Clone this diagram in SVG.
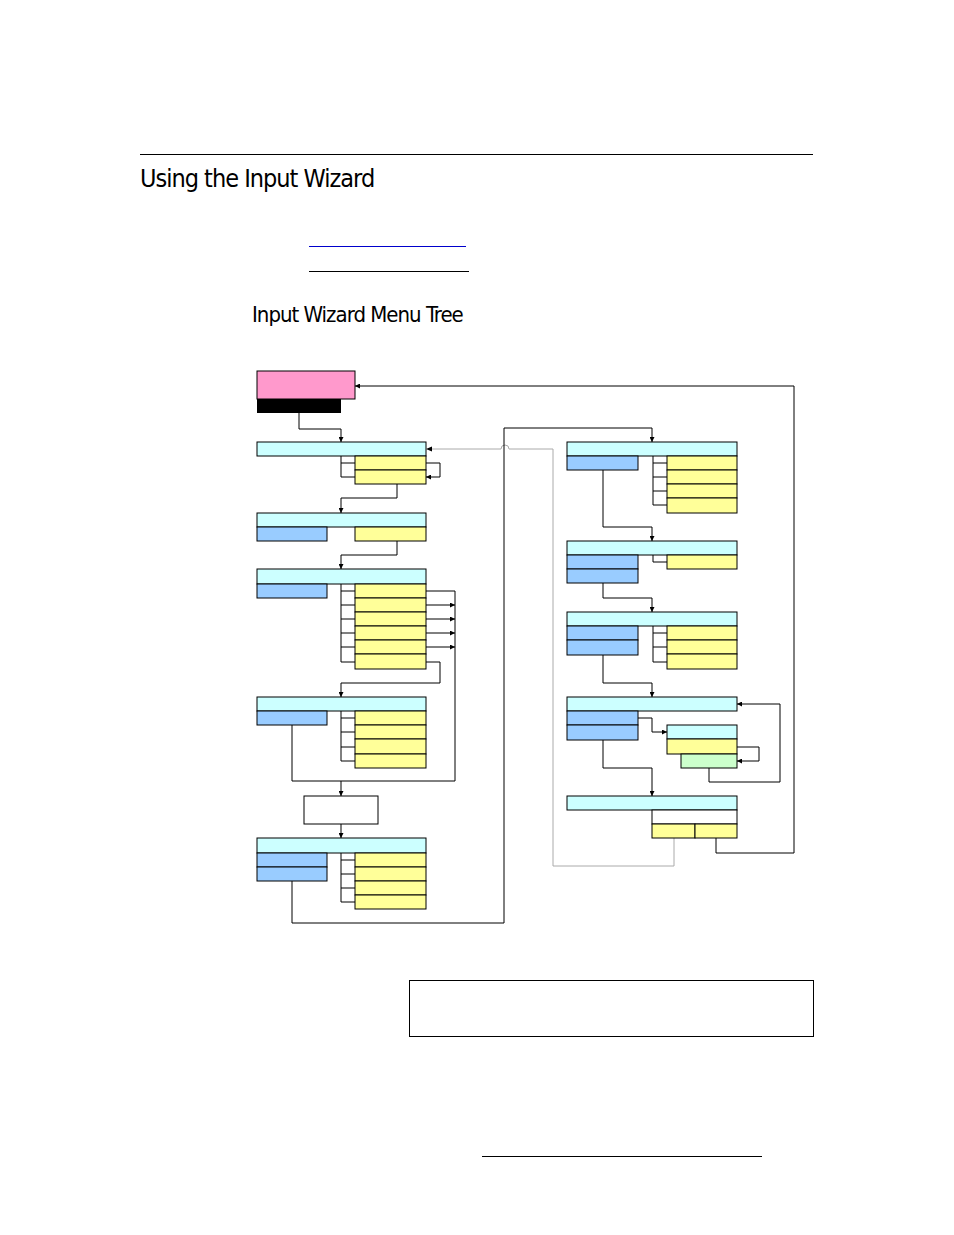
<svg xmlns="http://www.w3.org/2000/svg" width="954" height="1235" viewBox="0 0 954 1235">
<defs>
<marker id="a" viewBox="0 0 10 10" refX="10" refY="5" markerWidth="5" markerHeight="5" orient="auto"><path d="M0,0L10,5L0,10z" fill="#000"/></marker>
<marker id="g" viewBox="0 0 10 10" refX="10" refY="5" markerWidth="5" markerHeight="5" orient="auto"><path d="M0,0L10,5L0,10z" fill="#000"/></marker>
</defs>
<style>
.c{fill:#ccffff;stroke:#000;stroke-width:1}
.b{fill:#99ccff;stroke:#000;stroke-width:1}
.y{fill:#ffff99;stroke:#000;stroke-width:1}
.w{fill:#fff;stroke:#000;stroke-width:1}
.l{fill:none;stroke:#000;stroke-width:1}
.ar{fill:none;stroke:#000;stroke-width:1;marker-end:url(#a)}
.gr{fill:none;stroke:#aaa;stroke-width:1}
.t{font-family:"DejaVu Sans Condensed","Liberation Sans",sans-serif;fill:#000}
</style>
<rect width="954" height="1235" fill="#fff"/>
<line x1="140" y1="154.5" x2="813" y2="154.5" stroke="#000"/>
<text class="t" x="140" y="187" font-size="25" letter-spacing="-1">Using the Input Wizard</text>
<line x1="309" y1="246.5" x2="466" y2="246.5" stroke="#0000cc"/>
<line x1="309" y1="271.5" x2="469" y2="271.5" stroke="#000"/>
<text class="t" x="252" y="322" font-size="22" letter-spacing="-1">Input Wizard Menu Tree</text>
<rect x="409.5" y="980.5" width="404" height="56" fill="none" stroke="#000"/>
<line x1="482" y1="1156.5" x2="762" y2="1156.5" stroke="#000"/>

<g id="connectors">
<path class="ar" d="M299,413V429H341V442"/>
<path class="l" d="M341,456V477H355M341,463H355"/>
<path class="ar" d="M426,463H440V477H426"/>
<path class="gr" d="M674,838V866H553V449H509A4,4 0 0 0 501,449H432"/>
<path d="M426,449L432,446.5V451.5z" fill="#000"/>
<path class="ar" d="M397,484V498H341V513"/>
<path class="ar" d="M397,541V555H341V569"/>
<path class="l" d="M341,584V662H355M341,591H355M341,605H355M341,619H355M341,633H355M341,647H355"/>
<path class="l" d="M426,591H455V781"/>
<path class="ar" d="M426,605H455"/><path class="ar" d="M426,619H455"/><path class="ar" d="M426,633H455"/><path class="ar" d="M426,647H455"/>
<path class="ar" d="M426,662H440V683H341V697"/>
<path class="l" d="M341,711V761H355M341,718H355M341,732H355M341,747H355"/>
<path class="l" d="M292,725V781H455"/>
<path class="ar" d="M341,781V796"/>
<path class="ar" d="M341,824V838"/>
<path class="l" d="M341,853V902H355M341,860H355M341,874H355M341,888H355"/>
<path class="ar" d="M292,881V923H504V428H652V442"/>
<path class="l" d="M653,456V505H667M653,463H667M653,477H667M653,491H667"/>
<path class="ar" d="M603,470V527H652V541"/>
<path class="l" d="M653,555V562H667"/>
<path class="ar" d="M603,583V598H652V612"/>
<path class="l" d="M653,626V662H667M653,633H667M653,647H667"/>
<path class="ar" d="M603,655V683H652V697"/>
<path class="ar" d="M638,718H652V732H667"/>
<path class="ar" d="M737,747H759V761H737"/>
<path class="ar" d="M709,768V782H780V704H737"/>
<path class="ar" d="M603,740V768H652V796"/>
<path class="ar" d="M716,838V853H794V386H355"/>
</g>

<g id="start"><rect x="257" y="371" width="98" height="28" fill="#ff99cc" stroke="#000"/><rect x="257" y="399" width="84" height="14" fill="#000"/></g>
<g id="n1"><rect class="c" x="257" y="442" width="169" height="14"/><rect class="y" x="355" y="456" width="71" height="14"/><rect class="y" x="355" y="470" width="71" height="14"/></g>
<g id="n2"><rect class="c" x="257" y="513" width="169" height="14"/><rect class="b" x="257" y="527" width="70" height="14"/><rect class="y" x="355" y="527" width="71" height="14"/></g>
<g id="n3"><rect class="c" x="257" y="569" width="169" height="15"/><rect class="b" x="257" y="584" width="70" height="14"/>
<rect class="y" x="355" y="584" width="71" height="14"/><rect class="y" x="355" y="598" width="71" height="14"/><rect class="y" x="355" y="612" width="71" height="14"/><rect class="y" x="355" y="626" width="71" height="14"/><rect class="y" x="355" y="640" width="71" height="14"/><rect class="y" x="355" y="654" width="71" height="15"/></g>
<g id="n4"><rect class="c" x="257" y="697" width="169" height="14"/><rect class="b" x="257" y="711" width="70" height="14"/>
<rect class="y" x="355" y="711" width="71" height="14"/><rect class="y" x="355" y="725" width="71" height="14"/><rect class="y" x="355" y="739" width="71" height="15"/><rect class="y" x="355" y="754" width="71" height="14"/></g>
<g id="n5"><rect class="w" x="304" y="796" width="74" height="28"/></g>
<g id="n6"><rect class="c" x="257" y="838" width="169" height="15"/><rect class="b" x="257" y="853" width="70" height="14"/><rect class="b" x="257" y="867" width="70" height="14"/>
<rect class="y" x="355" y="853" width="71" height="14"/><rect class="y" x="355" y="867" width="71" height="14"/><rect class="y" x="355" y="881" width="71" height="14"/><rect class="y" x="355" y="895" width="71" height="14"/></g>
<g id="r1"><rect class="c" x="567" y="442" width="170" height="14"/><rect class="b" x="567" y="456" width="71" height="14"/>
<rect class="y" x="667" y="456" width="70" height="14"/><rect class="y" x="667" y="470" width="70" height="14"/><rect class="y" x="667" y="484" width="70" height="14"/><rect class="y" x="667" y="498" width="70" height="15"/></g>
<g id="r2"><rect class="c" x="567" y="541" width="170" height="14"/><rect class="b" x="567" y="555" width="71" height="14"/><rect class="b" x="567" y="569" width="71" height="14"/><rect class="y" x="667" y="555" width="70" height="14"/></g>
<g id="r3"><rect class="c" x="567" y="612" width="170" height="14"/><rect class="b" x="567" y="626" width="71" height="14"/><rect class="b" x="567" y="640" width="71" height="15"/>
<rect class="y" x="667" y="626" width="70" height="14"/><rect class="y" x="667" y="640" width="70" height="14"/><rect class="y" x="667" y="654" width="70" height="15"/></g>
<g id="r4"><rect class="c" x="567" y="697" width="170" height="14"/><rect class="b" x="567" y="711" width="71" height="14"/><rect class="b" x="567" y="725" width="71" height="15"/>
<rect class="c" x="667" y="725" width="70" height="14"/><rect class="y" x="667" y="739" width="70" height="15"/><rect x="681" y="754" width="56" height="14" fill="#ccffcc" stroke="#000"/></g>
<g id="r5"><rect class="c" x="567" y="796" width="170" height="14"/><rect class="w" x="652" y="810" width="85" height="14"/><rect class="y" x="652" y="824" width="43" height="14"/><rect class="y" x="695" y="824" width="42" height="14"/></g>
</svg>
